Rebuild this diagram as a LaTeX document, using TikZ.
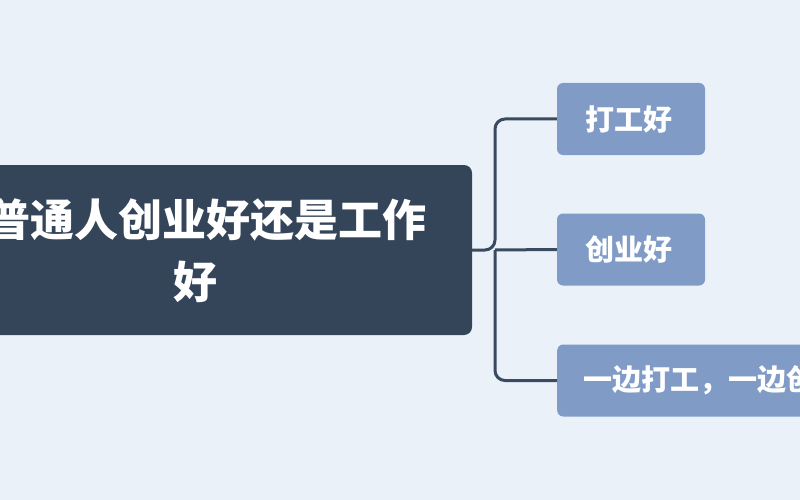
\documentclass[tikz,border=0pt]{standalone}
\usepackage{fontspec}
\newfontfamily\cjk{Noto Sans CJK SC}
\definecolor{bg}{HTML}{EBF1F9}
\definecolor{mainc}{HTML}{344459}
\definecolor{subc}{HTML}{7F9BC6}
\definecolor{linec}{HTML}{3A4A60}
\tikzset{sub/.style={fill=subc,rounded corners=6pt,draw=none},
 subt/.style={text=white,font=\cjk\bfseries\fontsize{29}{32}\selectfont,anchor=west},
 conn/.style={draw=linec,line width=3pt,rounded corners=10pt}}
\begin{document}
\begin{tikzpicture}[x=1pt,y=-1pt]
\useasboundingbox (0,0) rectangle (800,500);
\clip (0,0) rectangle (800,500);
\fill[bg] (0,0) rectangle (800,500);
\coordinate (m) at (472,250);
\coordinate (j) at (495,250);
\node[sub,minimum width=148pt,minimum height=72pt] (a) at (631,119) {};
\node[sub,minimum width=148pt,minimum height=72pt] (b) at (631,249.5) {};
\node[sub,minimum width=300pt,minimum height=72pt,anchor=west] (c) at (557,380.5) {};
\draw[conn] (m) -- (j) |- (a.west);
\draw[conn] (j) |- (c.west);
\draw[conn] (j) -- (b.west);
\fill[mainc,rounded corners=8pt] (-30,165) rectangle (472,335);
\node[text=white,font=\cjk\bfseries\fontsize{44}{48}\selectfont] (t1) at (207,220) {普通人创业好还是工作};
\node[text=white,font=\cjk\bfseries\fontsize{44}{48}\selectfont] (t2) at (195,282) {好};
\node[subt] (ta) at (582,119) {打工好};
\node[subt] (tb) at (582,249.5) {创业好};
\node[subt] (tc) at (580,380.5) {一边打工，一边创业};
\end{tikzpicture}
\end{document}
